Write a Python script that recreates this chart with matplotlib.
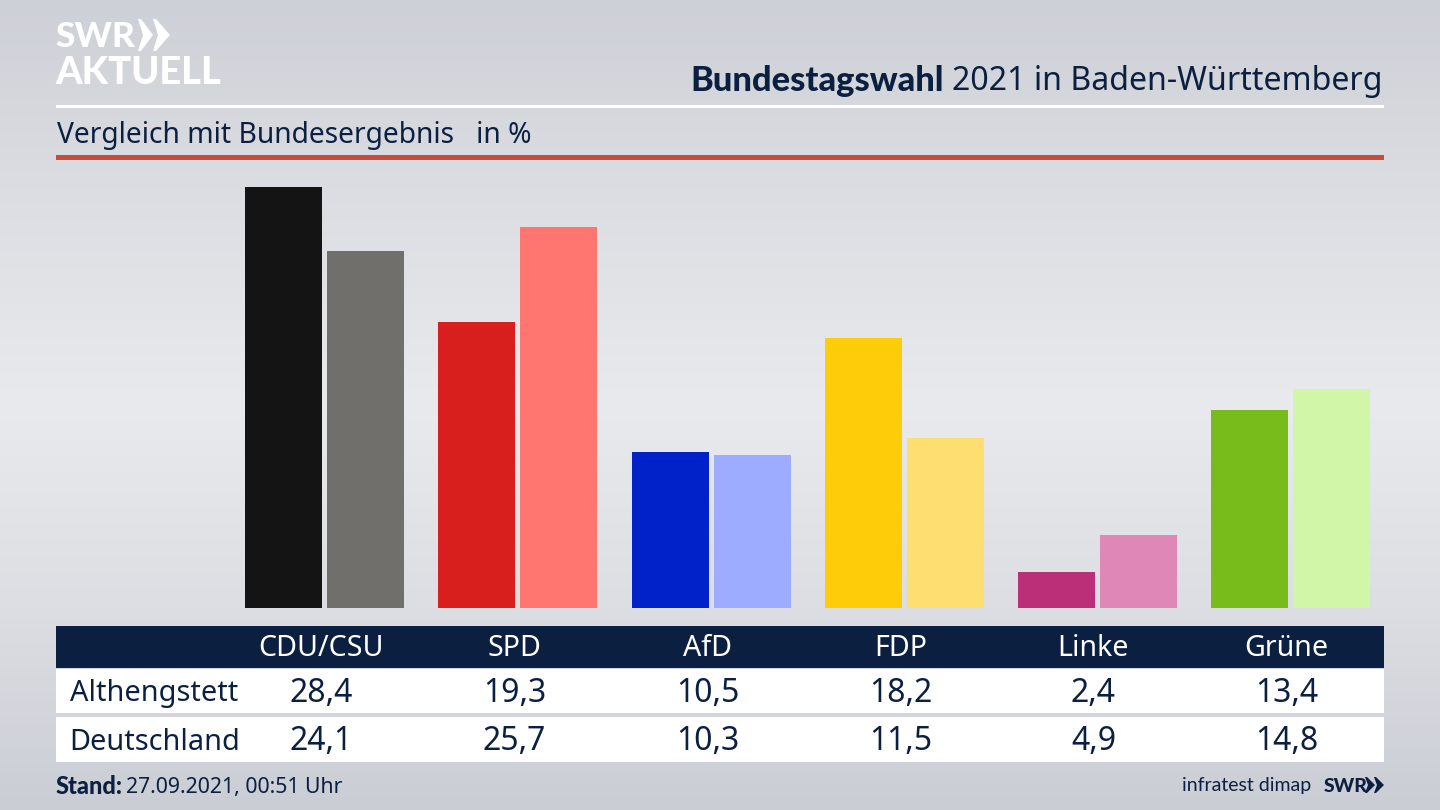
import numpy as np
import matplotlib
matplotlib.use("Agg")
import matplotlib.pyplot as plt
from matplotlib.colors import LinearSegmentedColormap
from matplotlib.patches import Polygon, Rectangle

parties = ["CDU/CSU", "SPD", "AfD", "FDP", "Linke", "Grüne"]
althengstett = [28.4, 19.3, 10.5, 18.2, 2.4, 13.4]
deutschland = [24.1, 25.7, 10.3, 11.5, 4.9, 14.8]
colors_local = ["#141414", "#d81f1d", "#0022c8", "#ffcc0a", "#bb2f78", "#78bc1c"]
colors_federal = ["#706f6c", "#ff7570", "#9eacff", "#fede70", "#df88b8", "#d2f6a8"]

NAVY = "#0b2040"
FONT = ["Noto Sans", "DejaVu Sans"]
BOLD = ["Lato", "DejaVu Sans"]
plt.rcParams["font.family"] = FONT


def fmt(v):
    return f"{v:.1f}".replace(".", ",")


fig = plt.figure(figsize=(14.4, 8.1), dpi=100)

# Hintergrund + alles in Pixelkoordinaten
bg = fig.add_axes([0, 0, 1, 1])
bg.set_xlim(0, 1440)
bg.set_ylim(810, 0)
bg.axis("off")
cmap = LinearSegmentedColormap.from_list("bg", ["#cdd0d6", "#dcdee3", "#e9eaed", "#dcdee3", "#cacdd4"])
grad = np.linspace(0, 1, 256).reshape(-1, 1)
bg.imshow(grad, extent=(0, 1440, 810, 0), aspect="auto", cmap=cmap, zorder=0)

# Kopf
bg.add_patch(Rectangle((56, 105), 1328, 2.5, color="white", lw=0))
bg.add_patch(Rectangle((56, 155), 1328, 5, color="#c84a38", lw=0))
bg.text(944, 81, "Bundestagswahl", ha="right", va="center", fontsize=24.8,
        family=BOLD, fontweight="black", color=NAVY)
bg.text(1383, 81, "2021 in Baden-Württemberg", ha="right", va="center", fontsize=23.1, color=NAVY)
bg.text(57, 135, "Vergleich mit Bundesergebnis   in %", ha="left", va="center", fontsize=20.3, color=NAVY)

# Logo
bg.text(55, 37, "SWR", ha="left", va="center", fontsize=25.5, family=BOLD, fontweight="black", color="white")
bg.text(55, 73, "AKTUELL", ha="left", va="center", fontsize=27.4, family=BOLD, fontweight="black", color="white")
for x0, w in ((138, 15), (153, 17)):
    bg.add_patch(Polygon([(x0, 19), (x0 + 3, 19), (x0 + w, 35), (x0 + 3, 51), (x0, 51), (x0 + 5, 35)],
                         color="white", lw=0))

# Balken
ax = fig.add_axes([228.3 / 1440, 1 - 608 / 810, 1158.6 / 1440, 444.3 / 810])
ax.patch.set_alpha(0)
x = np.arange(len(parties))
ax.bar(x - 0.2124, althengstett, width=0.399, color=colors_local)
ax.bar(x + 0.2124, deutschland, width=0.399, color=colors_federal)
ax.set_xlim(-0.5, 5.5)
ax.set_ylim(0, 30)
ax.axis("off")

# Tabelle
bg.add_patch(Rectangle((56, 626), 1328, 42, color=NAVY, lw=0))
bg.add_patch(Rectangle((56, 669), 1328, 44, color="white", lw=0))
bg.add_patch(Rectangle((56, 717), 1328, 45, color="white", lw=0))
bg.text(70, 693, "Althengstett", ha="left", va="center", fontsize=20.8, color=NAVY)
bg.text(69, 742, "Deutschland", ha="left", va="center", fontsize=20.8, color=NAVY)
for i, name in enumerate(parties):
    cx = 321.5 + 193 * i
    bg.text(cx, 648, name, ha="center", va="center", fontsize=20.6, color="white")
    bg.text(cx, 693, fmt(althengstett[i]), ha="center", va="center", fontsize=23, color=NAVY)
    bg.text(cx, 742, fmt(deutschland[i]), ha="center", va="center", fontsize=23, color=NAVY)

# Fuss
bg.text(56, 787, "Stand:", ha="left", va="center", fontsize=17, family=BOLD, fontweight="black", color=NAVY)
bg.text(126, 787, "27.09.2021, 00:51 Uhr", ha="left", va="center", fontsize=15.3, color=NAVY)
bg.text(1311, 786, "infratest dimap", ha="right", va="center", fontsize=14, family=BOLD, color=NAVY)
bg.text(1324, 786, "SWR", ha="left", va="center", fontsize=14, family=BOLD, fontweight="black", color=NAVY)
for x0 in (1365, 1374):
    bg.add_patch(Polygon([(x0, 777), (x0 + 2, 777), (x0 + 10, 785), (x0 + 2, 793), (x0, 793), (x0 + 3, 785)],
                         color=NAVY, lw=0))

fig.savefig("out.png", dpi=100)
